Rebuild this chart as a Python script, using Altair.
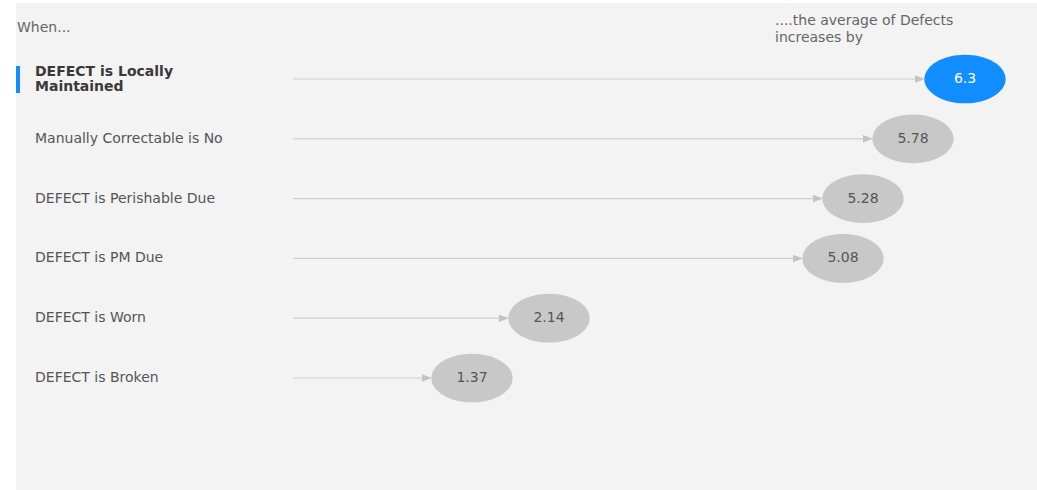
import altair as alt
import pandas as pd

labels = [
    "DEFECT is Locally\nMaintained",
    "Manually Correctable is No",
    "DEFECT is Perishable Due",
    "DEFECT is PM Due",
    "DEFECT is Worn",
    "DEFECT is Broken",
]
values = [6.3, 5.78, 5.28, 5.08, 2.14, 1.37]
selected = [True, False, False, False, False, False]
value_text = ["6.3", "5.78", "5.28", "5.08", "2.14", "1.37"]

df = pd.DataFrame({
    "row": list(range(len(labels))),
    "label": labels,
    "value": values,
    "vtext": value_text,
    "sel": selected,
})

FONT = "DejaVu Sans"
FS = 14
X0 = -0.42
xs = alt.Scale(domain=[X0, 7], range=[293, 1035])
ys = alt.Scale(domain=[0, 5], range=[79, 378])

base = alt.Chart(df)

bg = alt.Chart(pd.DataFrame({"a": [0]})).mark_rect(color="#f3f3f3").encode(
    x=alt.value(16), x2=alt.value(1037), y=alt.value(3), y2=alt.value(490)
)
selbar = alt.Chart(pd.DataFrame({"a": [0]})).mark_rect(color="#118dff").encode(
    x=alt.value(16), x2=alt.value(20), y=alt.value(66), y2=alt.value(93)
)
hdr_left = alt.Chart(pd.DataFrame({"t": ["When..."]})).mark_text(
    font=FONT, fontSize=FS, color="#666666", align="left", baseline="middle"
).encode(x=alt.value(17), y=alt.value(28), text="t:N")
hdr_right = alt.Chart(pd.DataFrame({"t": ["....the average of Defects\nincreases by"]})).mark_text(
    font=FONT, fontSize=FS, color="#666666", align="left", baseline="middle", lineBreak="\n", lineHeight=17
).encode(x=alt.value(775), y=alt.value(21), text="t:N")

Y = alt.Y("row:Q", scale=ys, axis=None)

lines = base.transform_calculate(start=str(X0), end="datum.value - 0.5").mark_rule(
    color="#cfcfcf", strokeWidth=1.2
).encode(x=alt.X("start:Q", scale=xs, axis=None), x2=alt.X2("end:Q"), y=Y)

arrows = base.transform_calculate(tip="datum.value - 0.45").mark_point(
    shape="M-1,-0.75L1,0L-1,0.75Z", filled=True, color="#c4c4c4", size=100, opacity=1
).encode(x=alt.X("tip:Q", scale=xs, axis=None), y=Y)

bubbles = base.mark_point(
    shape="M-1,0A1,0.6,0,1,0,1,0A1,0.6,0,1,0,-1,0Z", filled=True, size=6600, opacity=1
).encode(
    x=alt.X("value:Q", scale=xs, axis=None),
    y=Y,
    color=alt.condition("datum.sel", alt.value("#118dff"), alt.value("#c8c8c8")),
)

btext = base.mark_text(font=FONT, fontSize=FS, align="center", baseline="middle").encode(
    x=alt.X("value:Q", scale=xs, axis=None),
    y=Y,
    text="vtext:N",
    color=alt.condition("datum.sel", alt.value("#ffffff"), alt.value("#555555")),
)

ltext_sel = base.transform_filter("datum.sel").mark_text(
    font=FONT, fontSize=FS, fontWeight="bold", color="#3a3938",
    align="left", baseline="middle", lineBreak="\n", lineHeight=15, dy=-7
).encode(x=alt.value(35), y=Y, text="label:N")

ltext = base.transform_filter("!datum.sel").mark_text(
    font=FONT, fontSize=FS, color="#555555",
    align="left", baseline="middle", lineBreak="\n", lineHeight=16
).encode(x=alt.value(35), y=Y, text="label:N")

chart = alt.layer(bg, selbar, hdr_left, hdr_right, lines, arrows, bubbles, btext, ltext_sel, ltext).properties(
    width=1037, height=490, padding=0, autosize="none", background="white"
).configure_view(stroke=None)

chart.save("out.html", embed_options={"renderer": "svg", "actions": False})
